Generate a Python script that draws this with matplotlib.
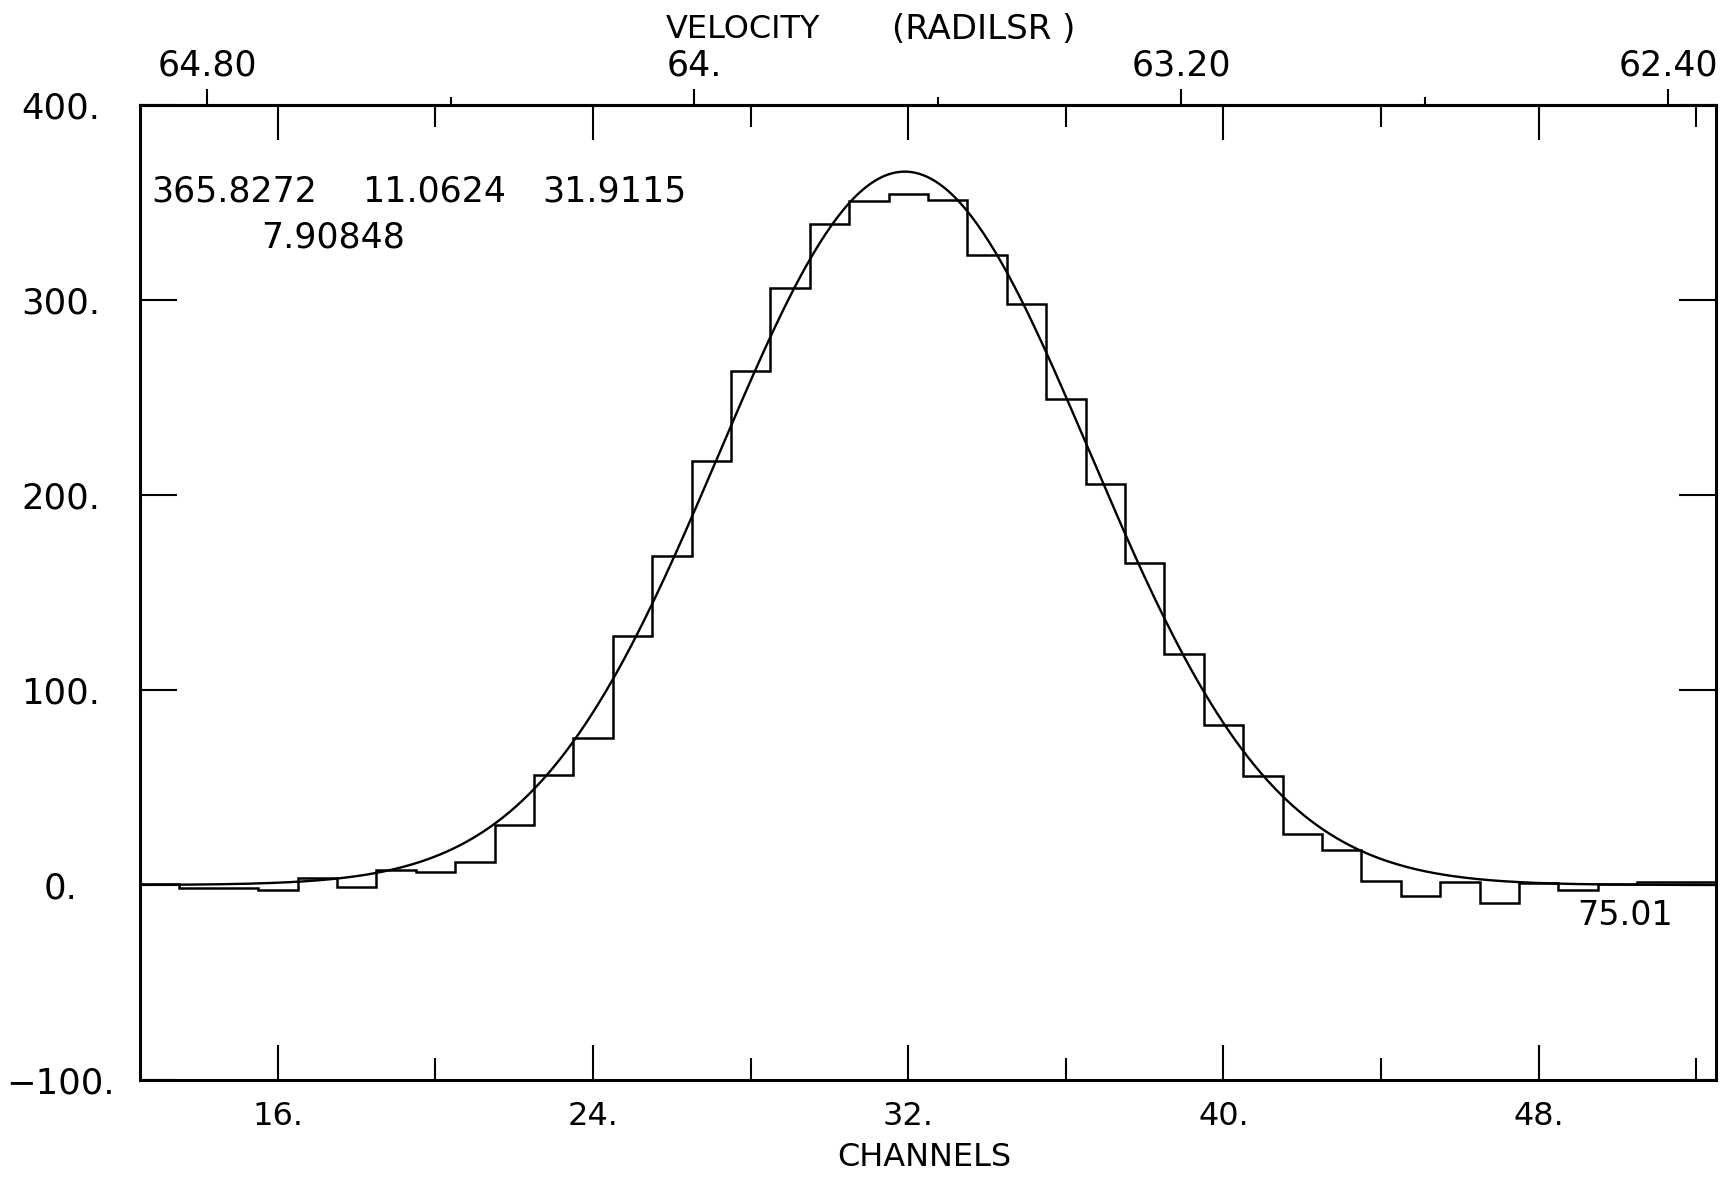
import numpy as np
import matplotlib
matplotlib.use("Agg")
import matplotlib.pyplot as plt

# Spectrum: one value per channel
channels = list(range(13, 53))
intensity = [0.5, -1.5, -1.5, -2.7, 3.6, -1.0, 7.6, 6.8, 11.8, 30.9,
             56.6, 75.4, 127.5, 168.6, 217.3, 263.4, 306.2, 339.0, 350.9, 354.5,
             351.4, 323.2, 297.9, 249.4, 205.6, 165.1, 118.5, 82.2, 56.1, 26.3,
             17.8, 1.9, -5.5, 1.5, -9.2, 1.0, -2.5, 0.5, 1.5, 1.5]

# Gaussian fit parameters printed on the plot: peak, FWHM, centre, extra value
fit_amp = 365.8272
fit_fwhm = 11.0624
fit_center = 31.9115
fit_extra = 7.90848
corner_label = "75.01"

# Axis ticks and labels
chan_major = [16, 24, 32, 40, 48]
chan_major_labels = ["16.", "24.", "32.", "40.", "48."]
chan_minor = [20, 28, 36, 44, 52]
y_ticks = [-100, 0, 100, 200, 300, 400]
y_labels = ["\u2212100.", "0.", "100.", "200.", "300.", "400."]
vel_major = [64.80, 64.00, 63.20, 62.40]
vel_major_labels = ["64.80", "64.", "63.20", "62.40"]
vel_minor = [64.40, 63.60, 62.80]

# channel <-> velocity (RADILSR) relation
vel_ref = 64.80
chan_at_ref = 14.21
chan_per_kms = 15.45


def chan_to_vel(c):
    return vel_ref - (np.asarray(c) - chan_at_ref) / chan_per_kms


def vel_to_chan(v):
    return chan_at_ref + (vel_ref - np.asarray(v)) * chan_per_kms


plt.rcParams['font.family'] = ['DejaVu Sans']

fig = plt.figure(figsize=(17.28, 11.85), dpi=100)
ax = fig.add_axes([0.081, 0.0886, 0.912, 0.8228])

# histogram of the channels
edges = np.array(channels + [channels[-1] + 1]) - 0.5
ax.stairs(intensity, edges, baseline=None, color='black', linewidth=1.8)

# fitted gaussian
xfit = np.linspace(12.5, 52.5, 500)
yfit = fit_amp * np.exp(-4 * np.log(2) * (xfit - fit_center) ** 2 / fit_fwhm ** 2)
ax.plot(xfit, yfit, color='black', linewidth=1.7)

ax.set_xlim(12.5, 52.5)
ax.set_ylim(-100, 400)

for s in ax.spines.values():
    s.set_linewidth(2.2)

ax.set_xticks(chan_major)
ax.set_xticklabels(chan_major_labels)
ax.set_xticks(chan_minor, minor=True)
ax.tick_params(axis='x', which='major', direction='in', length=25, width=1.5,
               top=True, labelsize=23, pad=15)
ax.tick_params(axis='x', which='minor', direction='in', length=16, width=1.5,
               top=True)

ax.set_yticks(y_ticks)
ax.set_yticklabels(y_labels)
ax.tick_params(axis='y', direction='in', length=26.5, width=1.5, right=True,
               labelsize=25.5, pad=57)
for lab in ax.get_yticklabels():
    lab.set_horizontalalignment('center')

# velocity axis on top
secax = ax.secondary_xaxis('top', functions=(chan_to_vel, vel_to_chan))
secax.set_xticks(vel_major)
secax.set_xticklabels(vel_major_labels)
secax.set_xticks(vel_minor, minor=True)
secax.tick_params(which='major', direction='out', length=11.5, width=1.5,
                  labelsize=25, pad=5)
secax.tick_params(which='minor', direction='out', length=6, width=1.5)
secax.spines['top'].set_linewidth(2.2)

# fit results
ax.text(12.80, 355.6, f"{fit_amp:.4f}", fontsize=25, va='center', ha='left')
ax.text(18.13, 355.6, f"{fit_fwhm:.4f}", fontsize=25, va='center', ha='left')
ax.text(22.72, 355.6, f"{fit_center:.4f}", fontsize=25, va='center', ha='left')
ax.text(15.57, 332.3, f"{fit_extra:.5f}", fontsize=25, va='center', ha='left')
ax.text(50.2, -15.4, corner_label, fontsize=24, va='center', ha='center')

fig.text(0.3854, 0.9751, "VELOCITY", fontsize=23, va='center', ha='left')
fig.text(0.5162, 0.9751, "(RADILSR )", fontsize=24.5, va='center', ha='left')
fig.text(0.535, 0.0236, "CHANNELS", fontsize=23, va='center', ha='center')

fig.savefig("out.png", dpi=100)
